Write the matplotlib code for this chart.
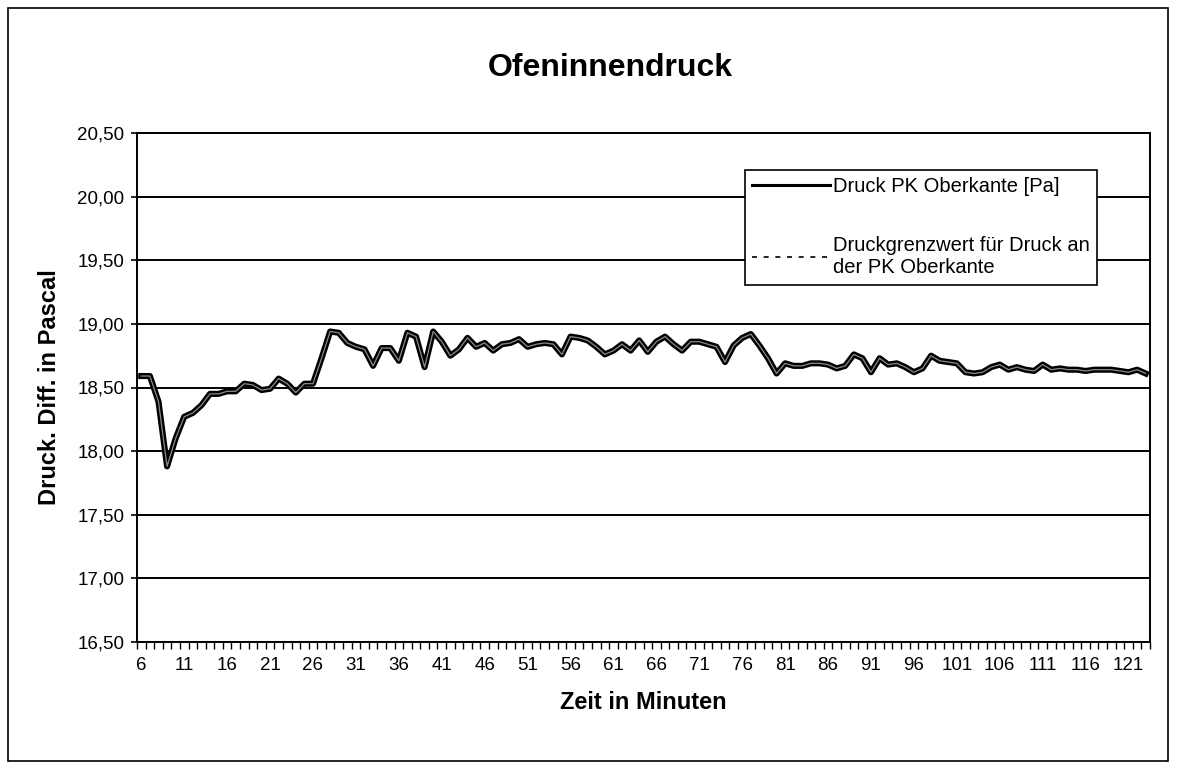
import matplotlib
matplotlib.use("Agg")
import matplotlib.pyplot as plt
from matplotlib.lines import Line2D
from matplotlib.patches import Rectangle
from matplotlib.ticker import FixedLocator, FuncFormatter

plt.rcParams['font.family'] = ['Liberation Sans', 'DejaVu Sans']

minutes = list(range(6, 124))
druck = [
    18.59, 18.59, 18.39, 17.88, 18.10, 18.27, 18.30, 18.36, 18.45, 18.45,
    18.47, 18.47, 18.53, 18.52, 18.48, 18.49, 18.57, 18.53, 18.46, 18.53,
    18.53, 18.73, 18.94, 18.93, 18.85, 18.82, 18.80, 18.67, 18.81, 18.81,
    18.71, 18.93, 18.90, 18.66, 18.94, 18.86, 18.75, 18.80, 18.89, 18.82,
    18.85, 18.79, 18.84, 18.85, 18.88, 18.82, 18.84, 18.85, 18.84, 18.76,
    18.90, 18.89, 18.87, 18.82, 18.76, 18.79, 18.84, 18.79, 18.87, 18.78,
    18.86, 18.90, 18.84, 18.79, 18.86, 18.86, 18.84, 18.82, 18.70, 18.83,
    18.89, 18.92, 18.83, 18.73, 18.61, 18.69, 18.67, 18.67, 18.69, 18.69,
    18.68, 18.65, 18.67, 18.76, 18.73, 18.62, 18.73, 18.68, 18.69, 18.66,
    18.62, 18.65, 18.75, 18.71, 18.70, 18.69, 18.62, 18.61, 18.62, 18.66,
    18.68, 18.64, 18.66, 18.64, 18.63, 18.68, 18.64, 18.65, 18.64, 18.64,
    18.63, 18.64, 18.64, 18.64, 18.63, 18.62, 18.64, 18.61,
]
y_ticks = [16.5, 17.0, 17.5, 18.0, 18.5, 19.0, 19.5, 20.0, 20.5]
x_labels = list(range(6, 122, 5))

title = "Ofeninnendruck"
xlabel = "Zeit in Minuten"
ylabel = "Druck. Diff. in Pascal"
series1 = "Druck PK Oberkante [Pa]"
series2 = "Druckgrenzwert für Druck an\nder PK Oberkante"

W, H = 1177, 771
fig = plt.figure(figsize=(W / 100, H / 100), dpi=100)
fig.patch.set_facecolor("white")
fig.add_artist(Rectangle((8 / W, 1 - 761 / H), 1160 / W, 753 / H,
                         transform=fig.transFigure, fill=False,
                         edgecolor="black", lw=1.2))

ax = fig.add_axes([137 / W, 1 - 642 / H, 1013 / W, 509 / H])
ax.set_xlim(minutes[0] - 0.5, minutes[-1] + 0.5)
ax.set_ylim(y_ticks[0], y_ticks[-1])

for yv in y_ticks:
    ax.axhline(yv, color="black", lw=1.4, zorder=1)

ax.plot(minutes, druck, color="black", lw=4.4, solid_joinstyle="round", zorder=3)
ax.plot(minutes, druck, color="#8a8a8a", lw=0.9, zorder=4)

ax.yaxis.set_major_locator(FixedLocator(y_ticks))
ax.yaxis.set_major_formatter(FuncFormatter(lambda v, p: f"{v:.2f}".replace(".", ",")))
ax.tick_params(axis="y", direction="inout", length=8, width=1.2, labelsize=13.5, pad=5)

ax.xaxis.set_major_locator(FixedLocator(x_labels))
ax.set_xticklabels([str(v) for v in x_labels])
ax.xaxis.set_minor_locator(FixedLocator([m - 0.5 for m in minutes] + [minutes[-1] + 0.5]))
ax.tick_params(axis="x", which="major", length=0, labelsize=13.5, pad=11)
ax.tick_params(axis="x", which="minor", direction="out", length=5, width=1.0)

for sp in ax.spines.values():
    sp.set_color("black")
    sp.set_linewidth(1.4)

ax.set_xlabel(xlabel, fontsize=17, fontweight="bold", labelpad=12)
ax.set_ylabel(ylabel, fontsize=17, fontweight="bold", labelpad=12)
fig.text(610 / W, 1 - 68 / H, title, ha="center", va="center",
         fontsize=23, fontweight="bold")

handles = [Line2D([], [], color="black", lw=2.2),
           Line2D([], [], color="black", lw=1.2, ls=(0, (3, 4)))]
leg = ax.legend(handles, [series1, series2], loc="upper left",
                bbox_to_anchor=(0.600, 0.927), fontsize=14.5, frameon=True,
                fancybox=False, framealpha=1.0, handlelength=3.9, handletextpad=0.15,
                labelspacing=2.0, borderpad=0.35, borderaxespad=0)
leg.get_frame().set_edgecolor("black")
leg.get_frame().set_linewidth(1.2)
leg.set_zorder(10)

fig.savefig("out.png", dpi=100, facecolor="white")
